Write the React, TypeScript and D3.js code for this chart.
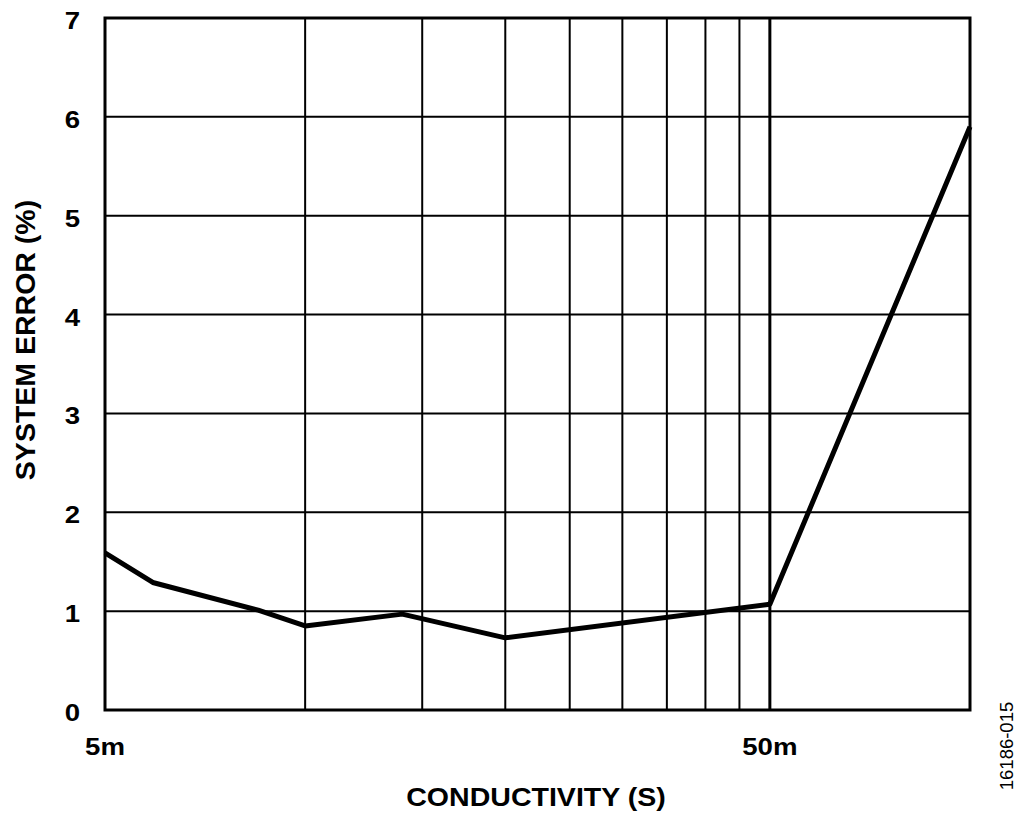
import React, { useRef, useEffect } from 'react';
import * as d3 from 'd3';

// conductivity in S, system error in %
const conductivity = [0.005, 0.0059, 0.0085, 0.01, 0.014, 0.02, 0.05, 0.1];
const systemError = [1.59, 1.29, 1.01, 0.85, 0.97, 0.73, 1.07, 5.9];

const yTicks = [0, 1, 2, 3, 4, 5, 6, 7];
const xGrid = [0.01, 0.015, 0.02, 0.025, 0.03, 0.035, 0.04, 0.045, 0.05];
const xLabels = [
  { value: 0.005, label: '5m' },
  { value: 0.05, label: '50m' }
];

export default function App() {
  const svgRef = useRef<SVGSVGElement>(null);

  useEffect(() => {
    const width = 1024;
    const height = 817;
    const svg = d3.select(svgRef.current);
    svg.selectAll('*').remove();
    svg.attr('width', width).attr('height', height);

    const margin = { top: 18, right: 54, bottom: 107, left: 105 };
    const innerWidth = width - margin.left - margin.right;
    const innerHeight = height - margin.top - margin.bottom;
    const font = '"Liberation Sans", Arial, sans-serif';
    const tickStretch = 1.15;

    const g = svg.append('g')
      .attr('transform', `translate(${margin.left},${margin.top})`);

    const x = d3.scaleLog().domain([0.005, 0.1]).range([0, innerWidth]);
    const y = d3.scaleLinear().domain([0, 7]).range([innerHeight, 0]);

    // grid
    g.append('g')
      .selectAll('line')
      .data(yTicks.slice(1, -1))
      .enter()
      .append('line')
      .attr('x1', 0)
      .attr('x2', innerWidth)
      .attr('y1', d => y(d))
      .attr('y2', d => y(d))
      .attr('stroke', '#000')
      .attr('stroke-width', 2);

    g.append('g')
      .selectAll('line')
      .data(xGrid)
      .enter()
      .append('line')
      .attr('x1', d => x(d))
      .attr('x2', d => x(d))
      .attr('y1', 0)
      .attr('y2', innerHeight)
      .attr('stroke', '#000')
      .attr('stroke-width', d => (d === 0.05 ? 3 : 2));

    // frame
    g.append('rect')
      .attr('width', innerWidth)
      .attr('height', innerHeight)
      .attr('fill', 'none')
      .attr('stroke', '#000')
      .attr('stroke-width', 3);

    // data line
    const line = d3.line<number>()
      .x((_, i) => x(conductivity[i]))
      .y(d => y(d));

    g.append('path')
      .datum(systemError)
      .attr('d', line)
      .attr('fill', 'none')
      .attr('stroke', '#000')
      .attr('stroke-width', 5)
      .attr('stroke-linejoin', 'round');

    // y tick labels
    g.append('g')
      .selectAll('text')
      .data(yTicks)
      .enter()
      .append('text')
      .attr('transform', d => `translate(-25,${y(d) + 11}) scale(${tickStretch},1)`)
      .attr('text-anchor', 'end')
      .attr('font-family', font)
      .attr('font-weight', 'bold')
      .attr('font-size', 24)
      .text(d => d);

    // x tick labels
    g.append('g')
      .selectAll('text')
      .data(xLabels)
      .enter()
      .append('text')
      .attr('transform', d => `translate(${x(d.value)},${innerHeight + 45}) scale(${tickStretch},1)`)
      .attr('text-anchor', 'middle')
      .attr('font-family', font)
      .attr('font-weight', 'bold')
      .attr('font-size', 24)
      .text(d => d.label);

    // axis titles
    svg.append('text')
      .attr('transform', 'translate(536,806) scale(1.12,1)')
      .attr('text-anchor', 'middle')
      .attr('font-family', font)
      .attr('font-weight', 'bold')
      .attr('font-size', 25.5)
      .text('CONDUCTIVITY (S)');

    svg.append('text')
      .attr('transform', 'translate(35,340) rotate(-90)')
      .attr('text-anchor', 'middle')
      .attr('font-family', font)
      .attr('font-weight', 'bold')
      .attr('font-size', 28.5)
      .text('SYSTEM ERROR (%)');

    svg.append('text')
      .attr('transform', 'translate(1013,746) rotate(-90)')
      .attr('text-anchor', 'middle')
      .attr('font-family', font)
      .attr('font-size', 18.5)
      .text('16186-015');
  }, []);

  return (
    <div style={{ position: 'absolute', left: 0, top: 0, background: '#fff' }}>
      <svg ref={svgRef} style={{ display: 'block' }} />
    </div>
  );
}
